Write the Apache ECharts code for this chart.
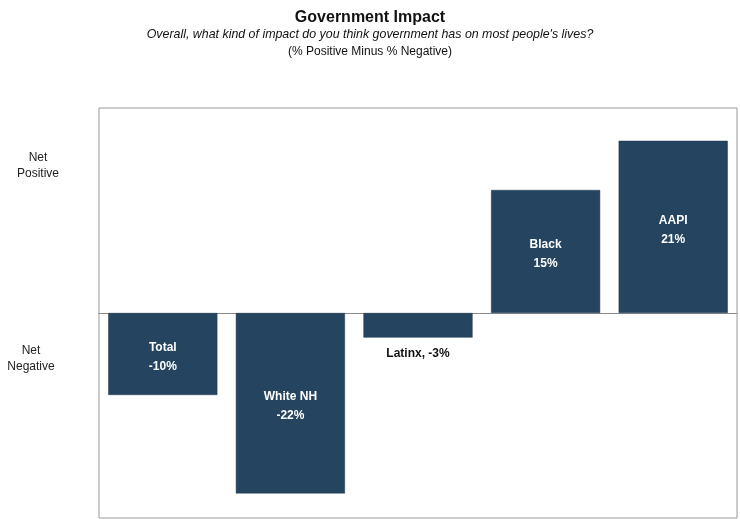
<!DOCTYPE html>
<html>
<head>
<meta charset="utf-8">
<script src="https://cdn.jsdelivr.net/npm/echarts@6/dist/echarts.min.js"></script>
<style>
  html, body { margin: 0; padding: 0; background: #fff; }
  #chart { width: 740px; height: 519px; }
</style>
</head>
<body>
<div id="chart"></div>
<script>
// Net impact (% positive minus % negative) by group
const groups = ['Total', 'White NH', 'Latinx', 'Black', 'AAPI'];
const netImpact = [-10, -22, -3, 15, 21];
// Groups whose label sits below the bar instead of inside it
const outsideLabelGroups = ['Latinx'];

const FONT = '"Liberation Sans", Arial, sans-serif';
const BAR_COLOR = '#24445f';

const chart = echarts.init(document.getElementById('chart'), null, { renderer: 'canvas' });

const seriesData = groups.map((g, i) => {
  const outside = outsideLabelGroups.includes(g);
  return {
    name: g,
    value: netImpact[i],
    label: outside ? {
      position: 'bottom',
      distance: 7,
      color: '#111',
      formatter: (p) => p.name + ', ' + p.value + '%'
    } : {
      position: 'inside',
      offset: [0, 3],
      color: '#fff',
      formatter: (p) => p.name + '\n' + p.value + '%'
    }
  };
});

chart.setOption({
  backgroundColor: '#fff',
  animation: false,
  title: [
    {
      text: 'Government Impact',
      left: 'center', top: 5,
      textStyle: { fontFamily: FONT, fontSize: 16, fontWeight: 'bold', color: '#111' }
    },
    {
      text: "Overall, what kind of impact do you think government has on most people's lives?",
      left: 'center', top: 24,
      textStyle: { fontFamily: FONT, fontSize: 12.4, fontStyle: 'italic', fontWeight: 'normal', color: '#111' }
    },
    {
      text: '(% Positive Minus % Negative)',
      left: 'center', top: 41,
      textStyle: { fontFamily: FONT, fontSize: 12, fontWeight: 'normal', color: '#111' }
    }
  ],
  graphic: [
    {
      type: 'text', x: 38, y: 166,
      style: { text: 'Net\nPositive', align: 'center', verticalAlign: 'middle',
        font: '12px ' + FONT, fill: '#222', lineHeight: 16 }
    },
    {
      type: 'text', x: 31, y: 359,
      style: { text: 'Net\nNegative', align: 'center', verticalAlign: 'middle',
        font: '12px ' + FONT, fill: '#222', lineHeight: 16 }
    }
  ],
  grid: {
    left: 99, right: 3, top: 108, bottom: 1,
    show: true, borderColor: '#9a9a9a', borderWidth: 1, backgroundColor: 'transparent'
  },
  xAxis: {
    type: 'category',
    data: groups,
    axisLine: { show: true, onZero: true, lineStyle: { color: '#8a8a8a', width: 1 } },
    axisTick: { show: false },
    axisLabel: { show: false },
    splitLine: { show: false }
  },
  yAxis: {
    type: 'value',
    min: -25, max: 25, interval: 25,
    axisLine: { show: false },
    axisTick: { show: false },
    axisLabel: { show: false },
    splitLine: { show: false }
  },
  series: [{
    type: 'bar',
    data: seriesData,
    barCategoryGap: '14.5%',
    itemStyle: { color: BAR_COLOR, borderColor: '#1e3a52', borderWidth: 0.5 },
    label: {
      show: true,
      fontFamily: FONT,
      fontSize: 12,
      fontWeight: 'bold',
      lineHeight: 19
    }
  }]
});
</script>
</body>
</html>
